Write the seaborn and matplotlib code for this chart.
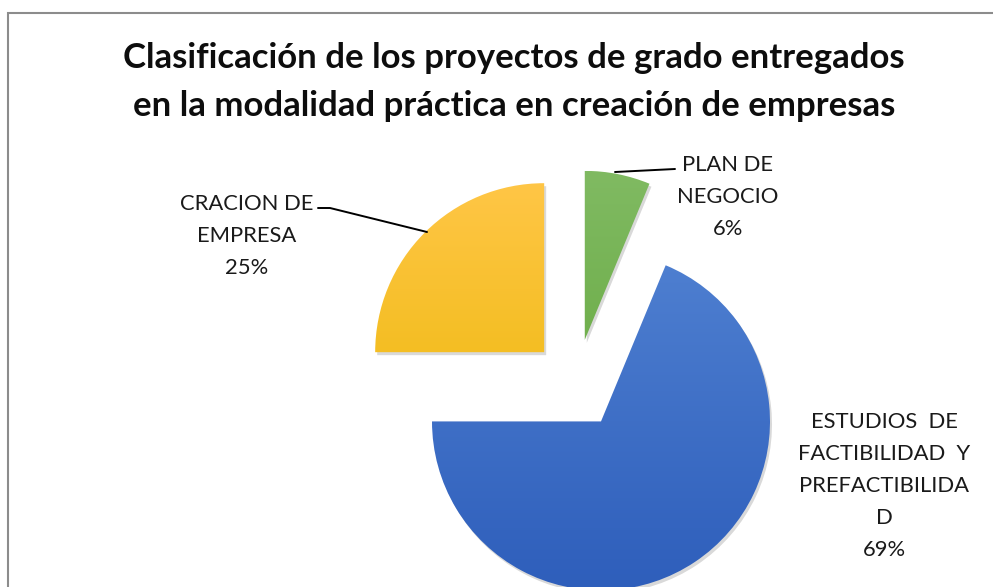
import matplotlib.pyplot as plt
import matplotlib.colors as mcolors
import numpy as np
import seaborn as sns
from matplotlib.patches import Rectangle, Wedge

# data (counts give 6% / 69% / 25%)
categories = ["PLAN DE\nNEGOCIO",
              "ESTUDIOS  DE\nFACTIBILIDAD  Y\nPREFACTIBILIDA\nD",
              "CRACION DE\nEMPRESA"]
counts = [1, 11, 4]
top_colors = ["#80BA62", "#4F80D1", "#FFC646"]
bottom_colors = ["#61A539", "#2E5EBB", "#E9B600"]
title = ("Clasificación de los proyectos de grado entregados\n"
         "en la modalidad práctica en creación de empresas")

sns.set_theme(style="white")
plt.rcParams['font.family'] = ['Lato', 'DejaVu Sans']

fig = plt.figure(figsize=(9.93, 5.87), dpi=100)
ax = fig.add_axes([0, 0, 1, 1])

# axes works in pixel units, y going up
H = 587
wedges, _ = ax.pie(counts, radius=169, center=(576, H - 384), startangle=90,
                   counterclock=False, explode=[45] * len(counts))

# soft shadow + vertical gradient fill for each slice
for w, c_top, c_bot in zip(wedges, top_colors, bottom_colors):
    x0, y0 = w.center
    sh = Wedge((x0 + 2, y0 - 3), w.r, w.theta1, w.theta2,
               color="#000000", alpha=0.15, zorder=1, lw=0)
    ax.add_patch(sh)
    w.set_facecolor("none")
    w.set_edgecolor("none")
    w.set_zorder(3)
    grad = np.linspace(0, 1, 256)[:, None, None]
    ct = np.array(mcolors.to_rgb(c_top))
    cb = np.array(mcolors.to_rgb(c_bot))
    img = cb + (ct - cb) * grad
    im = ax.imshow(img, extent=(x0 - w.r, x0 + w.r, y0 - w.r, y0 + w.r),
                   origin="lower", aspect="auto", zorder=2, interpolation="bilinear")
    im.set_clip_path(w)

total = sum(counts)
labels = [f"{c}\n{n / total * 100:.0f}%" for c, n in zip(categories, counts)]
label_pos = [(728, 197), (884, 486), (247, 236)]
for lab, (lx, ly) in zip(labels, label_pos):
    ax.text(lx, H - ly, lab, ha="center", va="center", fontsize=15.8,
            linespacing=1.75, color="#1a1a1a", zorder=5)

# leader lines
ax.plot([615, 675], [H - 172, H - 169], color="black", lw=1.4, zorder=4)
ax.plot([318, 330, 427], [H - 208, H - 208, H - 232], color="black", lw=1.4, zorder=4)

ax.set_xlim(0, 993)
ax.set_ylim(0, H)
ax.set_aspect("equal")
ax.axis("off")

fig.text(514 / 993, 1 - 82 / H, title, ha="center", va="center", fontsize=25,
         fontweight="bold", linespacing=1.6, color="#0d0d0d")

fig.add_artist(Rectangle((8 / 993, -0.1), 1.2, 1 - 13 / H + 0.1,
                         transform=fig.transFigure, fill=False,
                         edgecolor="#8c8c8c", lw=1.5))

fig.savefig("out.png", dpi=100)
